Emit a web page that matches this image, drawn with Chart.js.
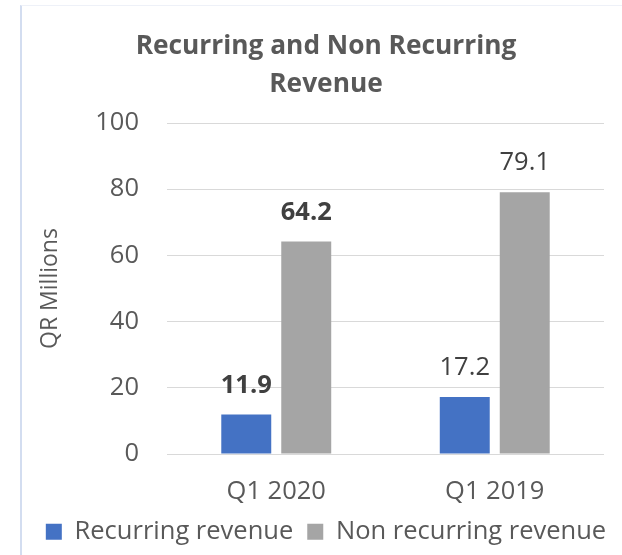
<!DOCTYPE html>
<html>
<head>
<meta charset="utf-8">
<script src="https://cdn.jsdelivr.net/npm/chart.js@4.4.1/dist/chart.umd.min.js"></script>
<style>
  html, body { margin: 0; padding: 0; background: #ffffff; }
  #wrap { position: relative; width: 622px; height: 555px; }
  #frame { position: absolute; left: 20px; top: 5px; right: 0; bottom: 0;
           border-left: 2px solid #d3ddf0; border-top: 1px solid #eef1f8; pointer-events: none; }
  canvas { position: absolute; left: 0; top: 0; }
</style>
</head>
<body>
<div id="wrap">
  <canvas id="chart" width="622" height="555"></canvas>
  <div id="frame"></div>
</div>
<script>
const categories = ['Q1 2020', 'Q1 2019'];
const recurringRevenue = [11.9, 17.2];
const nonRecurringRevenue = [64.2, 79.1];
const seriesNames = ['Recurring revenue', 'Non recurring revenue'];
const chartTitle = ['Recurring and Non Recurring', 'Revenue'];
const yAxisTitle = 'QR Millions';
const yTickValues = [0, 20, 40, 60, 80, 100];

const FONT = '"Open Sans", Lato, sans-serif';
const TEXT_SIZE = 25.5;

const dataLabels = {
  id: 'dataLabels',
  afterDatasetsDraw(chart) {
    const ctx = chart.ctx;
    ctx.save();
    ctx.textAlign = 'center';
    ctx.textBaseline = 'middle';
    ctx.fillStyle = '#404040';
    chart.data.datasets.forEach((ds, di) => {
      const meta = chart.getDatasetMeta(di);
      meta.data.forEach((bar, i) => {
        const bold = i === 0;
        ctx.font = (bold ? 'bold ' : '') + TEXT_SIZE + 'px ' + FONT;
        ctx.fillText(ds.data[i].toFixed(1), bar.x, bar.y - 29);
      });
    });
    ctx.restore();
  }
};

new Chart(document.getElementById('chart'), {
  type: 'bar',
  data: {
    labels: categories,
    datasets: [
      { label: seriesNames[0], data: recurringRevenue, backgroundColor: '#4472C4',
        categoryPercentage: 0.549, barPercentage: 0.833 },
      { label: seriesNames[1], data: nonRecurringRevenue, backgroundColor: '#A5A5A5',
        categoryPercentage: 0.549, barPercentage: 0.833 }
    ]
  },
  options: {
    responsive: false,
    animation: false,
    layout: { padding: { left: 30, right: 0, top: 0, bottom: 0.5 } },
    plugins: {
      title: {
        display: true,
        text: chartTitle,
        color: '#595959',
        font: { family: FONT, size: 26.3, weight: 'bold', lineHeight: 1.445 },
        padding: { top: 28, bottom: 19 }
      },
      legend: {
        position: 'bottom',
        labels: {
          color: '#595959',
          font: { family: FONT, size: TEXT_SIZE },
          boxWidth: 16, boxHeight: 16,
          padding: 14
        }
      },
      tooltip: { enabled: false }
    },
    scales: {
      x: {
        grid: { display: false },
        border: { display: false },
        ticks: { color: '#595959', font: { family: FONT, size: TEXT_SIZE }, padding: 14 },
        afterFit: s => { s.height = 51; }
      },
      y: {
        min: 0, max: 100,
        afterBuildTicks: s => { s.ticks = yTickValues.map(v => ({ value: v })); },
        grid: { color: '#D9D9D9', lineWidth: 1, drawTicks: false },
        border: { display: false },
        ticks: { color: '#595959', font: { family: FONT, size: TEXT_SIZE }, padding: 28 },
        title: { display: true, text: yAxisTitle, color: '#595959',
                 font: { family: FONT, size: 23 }, padding: { top: 7, bottom: 0 } },
        afterFit: s => { s.width = 137; }
      },
      yRight: {
        position: 'right',
        display: true,
        grid: { display: false },
        border: { display: false },
        ticks: { display: false },
        afterFit: s => { s.width = 18; }
      }
    }
  },
  plugins: [dataLabels]
});
</script>
</body>
</html>
